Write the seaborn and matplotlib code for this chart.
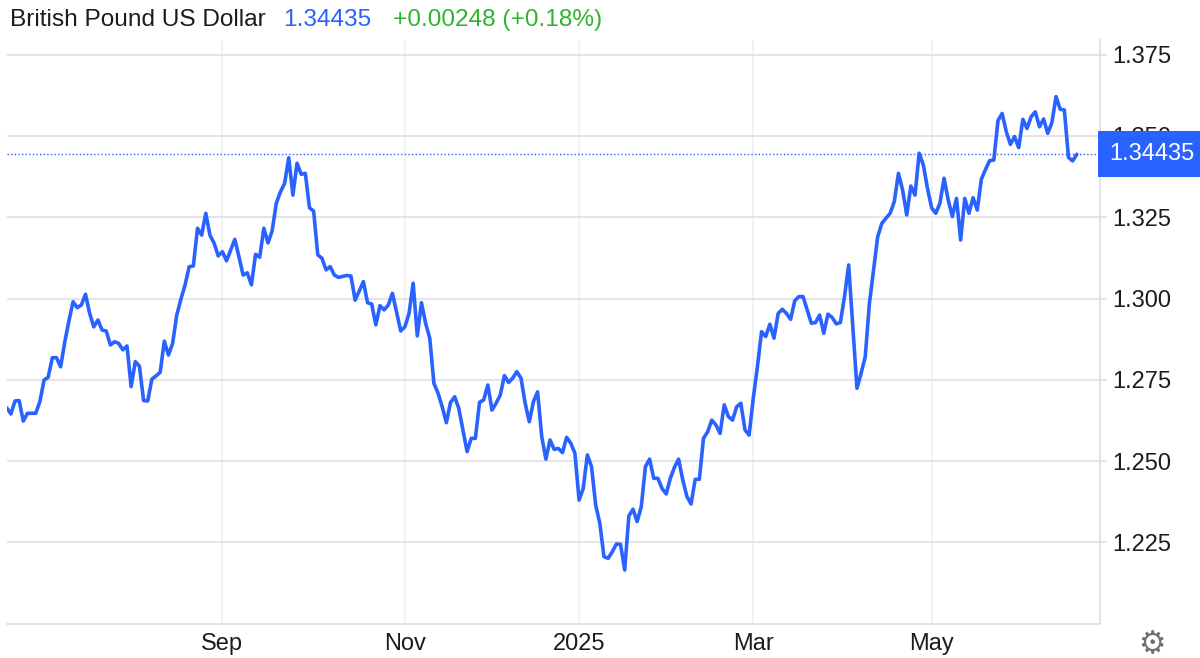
import numpy as np
import pandas as pd
import matplotlib
matplotlib.use('Agg')
import matplotlib.pyplot as plt
import matplotlib.transforms as mtransforms
import seaborn as sns

# trading days shown on the chart (weekdays, no Christmas / New Year)
dates = pd.bdate_range('2024-06-20', '2025-06-19')
dates = dates[~dates.isin(pd.to_datetime(['2024-12-25', '2025-01-01']))]

price = [
    1.2664, 1.2645, 1.2685, 1.2686, 1.2623, 1.2647, 1.2647, 1.2647, 1.2683, 1.2749,
    1.2758, 1.2818, 1.2818, 1.2790, 1.2866, 1.2931, 1.2990, 1.2972, 1.2980, 1.3013,
    1.2954, 1.2913, 1.2934, 1.2903, 1.2900, 1.2857, 1.2867, 1.2862, 1.2842, 1.2854,
    1.2729, 1.2806, 1.2792, 1.2686, 1.2685, 1.2752, 1.2762, 1.2773, 1.2869, 1.2826,
    1.2862, 1.2949, 1.2998, 1.3042, 1.3098, 1.3100, 1.3216, 1.3195, 1.3262, 1.3195,
    1.3170, 1.3131, 1.3144, 1.3116, 1.3149, 1.3182, 1.3128, 1.3072, 1.3079, 1.3042,
    1.3136, 1.3127, 1.3216, 1.3171, 1.3208, 1.3293, 1.3328, 1.3354, 1.3433, 1.3318,
    1.3416, 1.3382, 1.3385, 1.3279, 1.3269, 1.3134, 1.3124, 1.3088, 1.3098, 1.3072,
    1.3065, 1.3068, 1.3071, 1.3069, 1.2995, 1.3023, 1.3052, 1.2987, 1.2983, 1.2919,
    1.2978, 1.2965, 1.2980, 1.3016, 1.2958, 1.2900, 1.2913, 1.2954, 1.3047, 1.2885,
    1.2987, 1.2924, 1.2878, 1.2739, 1.2709, 1.2667, 1.2618, 1.2680, 1.2698, 1.2662,
    1.2596, 1.2529, 1.2570, 1.2570, 1.2681, 1.2688, 1.2734, 1.2657, 1.2678, 1.2703,
    1.2763, 1.2742, 1.2755, 1.2775, 1.2755, 1.2678, 1.2621, 1.2683, 1.2713, 1.2575,
    1.2506, 1.2565, 1.2536, 1.2539, 1.2526, 1.2573, 1.2555, 1.2524, 1.2380, 1.2416,
    1.2519, 1.2483, 1.2365, 1.2309, 1.2206, 1.2201, 1.2221, 1.2245, 1.2244, 1.2165,
    1.2331, 1.2352, 1.2314, 1.2360, 1.2483, 1.2506, 1.2447, 1.2447, 1.2416, 1.2399,
    1.2447, 1.2481, 1.2506, 1.2442, 1.2391, 1.2368, 1.2444, 1.2444, 1.2570, 1.2590,
    1.2626, 1.2611, 1.2585, 1.2673, 1.2637, 1.2626, 1.2667, 1.2678, 1.2596, 1.2580,
    1.2693, 1.2790, 1.2898, 1.2883, 1.2921, 1.2878, 1.2954, 1.2967, 1.2954, 1.2936,
    1.2993, 1.3006, 1.3006, 1.2965, 1.2924, 1.2926, 1.2949, 1.2893, 1.2952, 1.2942,
    1.2922, 1.2926, 1.3006, 1.3103, 1.2913, 1.2724, 1.2770, 1.2821, 1.2985, 1.3088,
    1.3190, 1.3231, 1.3247, 1.3262, 1.3298, 1.3385, 1.3334, 1.3257, 1.3346, 1.3318,
    1.3447, 1.3411, 1.3339, 1.3279, 1.3262, 1.3293, 1.3370, 1.3303, 1.3252, 1.3308,
    1.3180, 1.3308, 1.3262, 1.3310, 1.3272, 1.3367, 1.3397, 1.3424, 1.3426, 1.3547,
    1.3569, 1.3513, 1.3474, 1.3498, 1.3464, 1.3551, 1.3523, 1.3559, 1.3574, 1.3528,
    1.3552, 1.3508, 1.3541, 1.3621, 1.3582, 1.3580, 1.3434, 1.3423, 1.34435,
]

title = 'British Pound US Dollar'
last_price = 1.34435
change_txt = '+0.00248 (+0.18%)'
month_starts = ['2024-09-01', '2024-11-01', '2025-01-01', '2025-03-01', '2025-05-01']
month_labels = ['Sep', 'Nov', '2025', 'Mar', 'May']
y_ticks = [1.225, 1.250, 1.275, 1.300, 1.325, 1.350, 1.375]

blue = '#2962ff'
green = '#2db52d'
text_col = '#1c1c1c'

df = pd.DataFrame({'date': dates, 'price': price})
df['t'] = np.arange(len(df))
tick_pos = [int(df['date'].searchsorted(pd.Timestamp(m))) for m in month_starts]

sns.set_style('white')
plt.rcParams['font.family'] = ['Liberation Sans', 'DejaVu Sans']

W, H = 1200, 658
fig = plt.figure(figsize=(W / 100, H / 100), dpi=100)
ax = fig.add_axes([6.5 / W, 1 - 624 / H, (1100 - 6.5) / W, (624 - 40) / H])

sns.lineplot(data=df, x='t', y='price', color=blue, linewidth=2.6, ax=ax, zorder=4)
ax.axhline(last_price, color=blue, lw=1.0, ls=(0, (1, 1.6)), zorder=3)

ax.set_xlim(-0.05, 263.6)
ax.set_ylim(1.1999, 1.3795)
ax.set_xticks(tick_pos)
ax.set_xticklabels(month_labels)
ax.set_yticks(y_ticks)
ax.set_yticklabels(['%.3f' % v for v in y_ticks])
ax.yaxis.tick_right()
ax.set_xlabel('')
ax.set_ylabel('')

ax.yaxis.grid(True, color='#e2e2e2', lw=1.3)
ax.xaxis.grid(True, color='#edf0f5', lw=1.2)
ax.set_axisbelow(True)

for s in ['top', 'left']:
    ax.spines[s].set_visible(False)
for s in ['right', 'bottom']:
    ax.spines[s].set_color('#e0e0e0')
    ax.spines[s].set_linewidth(1.3)

ax.tick_params(axis='x', length=0, pad=6.5, labelsize=17, labelcolor=text_col)
ax.tick_params(axis='y', length=5, width=1.2, color='#e0e0e0', pad=4,
               labelsize=17, labelcolor=text_col)

# price badge on the right axis
trans = mtransforms.blended_transform_factory(ax.transAxes, ax.transData)
ax.text(1.0087, last_price, '%.5f' % last_price, transform=trans, ha='left', va='center',
        fontsize=17, color='white', zorder=10, clip_on=False,
        bbox=dict(boxstyle='square,pad=0.5', fc=blue, ec='none'))

# header
ty = 1 - 20 / H
fig.text(10 / W, ty, title, fontsize=17.6, color=text_col, va='center', ha='left')
fig.text(283 / W, ty, '%.5f' % last_price, fontsize=17.6, color=blue, va='center', ha='left')
fig.text(393 / W, ty, change_txt, fontsize=17.6, color=green, va='center', ha='left')

# settings gear
fig.text(1152 / W, 1 - 645 / H, '\u2699', fontsize=22, color='#6f6f6f',
         ha='center', va='center', family='DejaVu Sans')

fig.savefig('out.png', dpi=100)
